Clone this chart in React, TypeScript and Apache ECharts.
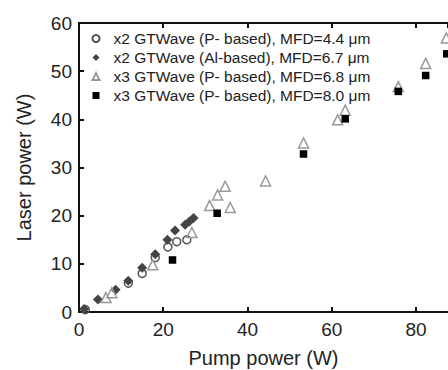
import React, { useEffect, useRef } from "react";
import * as echarts from "echarts";

const seriesNames = [
  "x2 GTWave (P- based), MFD=4.4 μm",
  "x2 GTWave (Al-based), MFD=6.7 μm",
  "x3 GTWave (P- based), MFD=6.8 μm",
  "x3 GTWave (P- based), MFD=8.0 μm",
];

const circles44: number[][] = [
  [1.5, 0.5], [11.7, 6.0], [15.0, 8.0], [18.1, 11.3], [21.1, 13.5], [23.2, 14.6], [25.6, 15.0],
];
const diamonds67: number[][] = [
  [1.2, 0.6], [4.5, 2.6], [8.7, 4.6], [11.7, 6.5], [15.0, 9.2], [18.1, 12.0], [21.0, 15.0],
  [22.8, 16.9], [25.2, 18.1], [26.2, 18.8], [27.2, 19.5],
];
const triangles68: number[][] = [
  [6.4, 3.0], [7.8, 4.0], [17.5, 9.8], [26.8, 16.5], [31.0, 22.1], [32.9, 24.3], [34.7, 26.1],
  [35.9, 21.7], [44.3, 27.2], [53.3, 35.1], [61.4, 39.9], [63.2, 41.9], [75.8, 46.8],
  [82.3, 51.6], [87.2, 56.9],
];
const squares80: number[][] = [
  [22.2, 10.8], [32.8, 20.5], [53.3, 32.8], [63.2, 40.1], [75.8, 45.8], [82.3, 49.1], [87.3, 53.6],
];

const xTicks = { min: 0, max: 87.6, interval: 20 };
const yTicks = { min: 0, max: 60, interval: 10 };

const FONT = "Liberation Sans, Arial, sans-serif";

export default function App() {
  const ref = useRef<HTMLDivElement>(null);
  useEffect(() => {
    if (!ref.current) return;
    const chart = echarts.init(ref.current, null, { renderer: "svg" });
    const axisLine = { show: true, lineStyle: { color: "#111", width: 2 } };
    const axisTick = { show: true, inside: true, length: 5, lineStyle: { color: "#111", width: 2 } };
    chart.setOption({
      animation: false,
      backgroundColor: "#fff",
      grid: { left: 79, right: 0, top: 23, bottom: 58, containLabel: false, outerBoundsMode: "none" },
      legend: {
        orient: "vertical",
        left: 91.5,
        top: 30.5,
        itemWidth: 7,
        itemHeight: 7,
        itemGap: 3,
        padding: 0,
        textStyle: {
          fontFamily: FONT,
          fontSize: 15.5,
          color: "#222",
          lineHeight: 15,
          padding: [0, 0, 0, 9],
        },
        data: seriesNames,
      },
      xAxis: [
        {
          type: "value",
          position: "bottom",
          min: xTicks.min,
          max: xTicks.max,
          interval: xTicks.interval,
          axisLine,
          axisTick,
          splitLine: { show: false },
          axisLabel: { fontFamily: FONT, fontSize: 19, color: "#222", margin: 8, showMaxLabel: false },
          name: "Pump power (W)",
          nameLocation: "middle",
          nameGap: 36,
          nameTextStyle: { fontFamily: FONT, fontSize: 20, color: "#222" },
        },
        {
          type: "value",
          position: "top",
          min: xTicks.min,
          max: xTicks.max,
          interval: xTicks.interval,
          axisLine,
          axisTick,
          splitLine: { show: false },
          axisLabel: { show: false },
        },
      ],
      yAxis: {
        type: "value",
        min: yTicks.min,
        max: yTicks.max,
        interval: yTicks.interval,
        axisLine,
        axisTick,
        splitLine: { show: false },
        axisLabel: { fontFamily: FONT, fontSize: 19, color: "#222", margin: 7 },
        name: "Laser power (W)",
        nameLocation: "middle",
        nameGap: 45,
        nameTextStyle: { fontFamily: FONT, fontSize: 20, color: "#222" },
      },
      series: [
        {
          name: seriesNames[0],
          type: "scatter",
          data: circles44,
          symbol: "circle",
          symbolSize: 8,
          itemStyle: { color: "rgba(255,255,255,0)", borderColor: "#555", borderWidth: 1.5, opacity: 1 },
        },
        {
          name: seriesNames[1],
          type: "scatter",
          data: diamonds67,
          symbol: "diamond",
          symbolSize: 10,
          itemStyle: { color: "#444", opacity: 1 },
        },
        {
          name: seriesNames[2],
          type: "scatter",
          data: triangles68,
          symbol: "triangle",
          symbolSize: 10,
          itemStyle: { color: "rgba(255,255,255,0)", borderColor: "#999", borderWidth: 1.5, opacity: 1 },
        },
        {
          name: seriesNames[3],
          type: "scatter",
          data: squares80,
          symbol: "rect",
          symbolSize: 7.5,
          itemStyle: { color: "#000", opacity: 1 },
        },
      ],
    });
    return () => chart.dispose();
  }, []);
  return (
    <div
      ref={ref}
      style={{ position: "absolute", left: 0, top: 0, width: 448, height: 370 }}
    />
  );
}
